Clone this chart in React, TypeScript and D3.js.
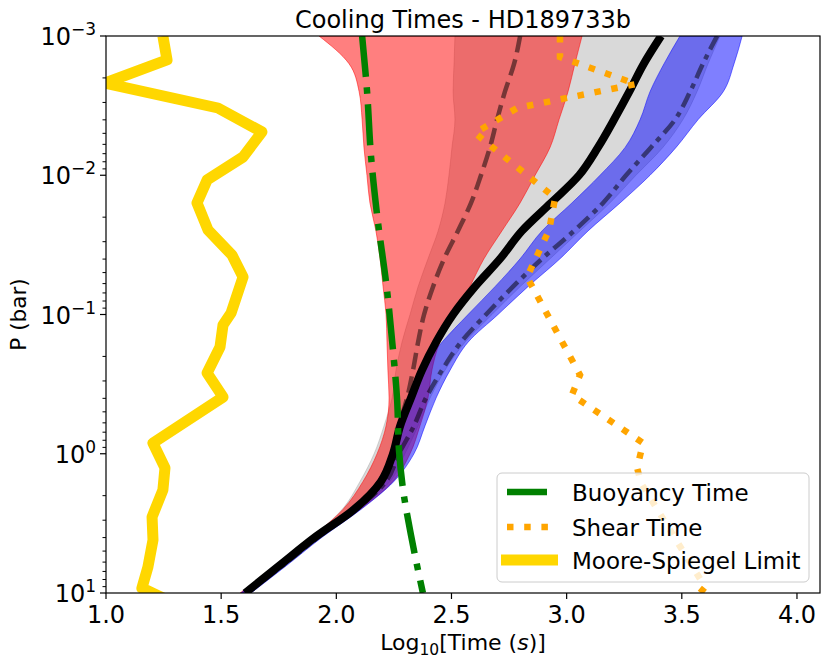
import React from "react";
import * as d3 from "d3";

// pressure levels (bar) shared by the model envelopes
const pressure = [0.001, 0.00158, 0.00251, 0.00398, 0.00631, 0.01, 0.0158, 0.0251, 0.0398, 0.0631, 0.1, 0.158, 0.251, 0.398, 0.631, 1.0, 1.58, 2.51, 3.98, 6.31, 10];

// log10 cooling time envelopes
const redLow = [1.925, 2.055, 2.099, 2.112, 2.12, 2.133, 2.146, 2.172, 2.19, 2.203, 2.216, 2.22, 2.224, 2.229, 2.216, 2.177, 2.116, 2.029, 1.894, 1.742, 1.582];
const redHigh = [3.067, 3.036, 3.006, 2.967, 2.928, 2.863, 2.798, 2.719, 2.641, 2.58, 2.52, 2.45, 2.415, 2.398, 2.363, 2.32, 2.246, 2.103, 1.929, 1.773, 1.617];
const redMid = [2.798, 2.772, 2.732, 2.698, 2.667, 2.628, 2.585, 2.528, 2.468, 2.42, 2.381, 2.355, 2.333, 2.307, 2.272, 2.242, 2.19, 2.072, 1.907, 1.755, 1.604];
const greyLow = [2.515, 2.511, 2.507, 2.515, 2.502, 2.489, 2.472, 2.442, 2.398, 2.355, 2.32, 2.285, 2.259, 2.242, 2.207, 2.164, 2.103, 2.025, 1.894, 1.747, 1.586];
const greyHigh = [3.666, 3.614, 3.566, 3.505, 3.418, 3.301, 3.188, 3.058, 2.928, 2.798, 2.676, 2.559, 2.472, 2.407, 2.355, 2.298, 2.233, 2.094, 1.929, 1.777, 1.621];
const blackMid = [3.41, 3.335, 3.272, 3.206, 3.136, 3.054, 2.932, 2.806, 2.711, 2.602, 2.507, 2.433, 2.372, 2.324, 2.277, 2.246, 2.194, 2.077, 1.907, 1.755, 1.604];
const blueLow = [3.492, 3.423, 3.362, 3.319, 3.254, 3.145, 3.023, 2.893, 2.798, 2.689, 2.572, 2.459, 2.363, 2.311, 2.264, 2.233, 2.177, 2.059, 1.894, 1.747, 1.586];
const blueHigh = [3.762, 3.727, 3.68, 3.571, 3.475, 3.362, 3.232, 3.093, 2.971, 2.832, 2.702, 2.572, 2.494, 2.433, 2.385, 2.337, 2.25, 2.107, 1.938, 1.786, 1.63];
const blueMid = [3.653, 3.592, 3.536, 3.471, 3.366, 3.258, 3.158, 3.032, 2.893, 2.767, 2.65, 2.541, 2.459, 2.389, 2.337, 2.272, 2.216, 2.086, 1.921, 1.769, 1.612];

// buoyancy time
const buoyPressure = [0.001, 0.002443, 0.0074, 0.01928, 0.06668, 0.1799, 0.4111, 0.9397, 1.82, 3.828, 10];
const buoyTime = [2.112, 2.133, 2.151, 2.177, 2.22, 2.246, 2.264, 2.272, 2.29, 2.324, 2.376];

// shear time
const shearPressure = [0.001, 0.001416, 0.002213, 0.003289, 0.004977, 0.01455, 0.02472, 0.05383, 0.2716, 0.3784, 0.8375, 1.265, 1.622, 9.06, 12.19];
const shearTime = [2.971, 2.971, 3.301, 2.785, 2.602, 2.95, 2.924, 2.828, 3.058, 3.023, 3.332, 3.306, 3.323, 3.601, 3.536];

// Moore-Spiegel limit
const msPressure = [0.001, 0.001486, 0.002178, 0.003289, 0.004887, 0.007396, 0.01081, 0.01581, 0.02472, 0.03741, 0.05383, 0.0975, 0.1189, 0.171, 0.263, 0.3917, 0.8375, 1.265, 1.82, 2.844, 4.159, 6.501, 9.204, 13.03];
const msTime = [1.247, 1.265, 0.995, 1.486, 1.677, 1.595, 1.439, 1.395, 1.443, 1.547, 1.595, 1.543, 1.508, 1.495, 1.439, 1.508, 1.204, 1.256, 1.247, 1.2, 1.204, 1.182, 1.156, 1.347];

const xTicks = [1.0, 1.5, 2.0, 2.5, 3.0, 3.5, 4.0];
const yTicks = [1e-3, 1e-2, 1e-1, 1e0, 1e1];
const yTickExp = ["\u22123", "\u22122", "\u22121", "0", "1"];

const legendItems = ["Buoyancy Time", "Shear Time", "Moore-Spiegel Limit"];

const W = 830, H = 665;
const left = 106, right = 820, top = 36, bottom = 593;
const font = "DejaVu Sans, sans-serif";

export default function App() {
  const x = d3.scaleLinear().domain([1.0, 4.1]).range([left, right]);
  const y = d3.scaleLog().domain([1e-3, 1e1]).range([top, bottom]);

  const band = (lo: number[], hi: number[]) =>
    d3.area<number>()
      .x0((_, i) => x(lo[i]))
      .x1((_, i) => x(hi[i]))
      .y((p) => y(p))
      .curve(d3.curveMonotoneY)(pressure) || "";

  const profile = (t: number[]) =>
    d3.line<number>()
      .x((_, i) => x(t[i]))
      .y((p) => y(p))
      .curve(d3.curveMonotoneY)(pressure) || "";

  const poly = (t: number[], p: number[], smooth = false) =>
    d3.line<number>()
      .x((d) => x(d))
      .y((_, i) => y(p[i]))
      .curve(smooth ? d3.curveMonotoneY : d3.curveLinear)(t) || "";

  const minor: number[] = [];
  for (let k = -3; k < 1; k++) {
    for (let m = 2; m < 10; m++) minor.push(m * Math.pow(10, k));
  }

  const legY = [492, 527, 560];

  return (
    <svg width={W} height={H} style={{ position: "absolute", left: 0, top: 0, background: "#fff" }} fontFamily={font}>
      <defs>
        <clipPath id="plot">
          <rect x={left} y={top} width={right - left} height={bottom - top} />
        </clipPath>
      </defs>

      <g clipPath="url(#plot)">
        <path d={band(greyLow, greyHigh)} fill="grey" fillOpacity={0.3} stroke="grey" strokeOpacity={0.3} strokeWidth={1} />
        <path d={band(redLow, redHigh)} fill="red" fillOpacity={0.5} stroke="red" strokeOpacity={0.5} strokeWidth={1} />
        <path d={band(blueLow, blueHigh)} fill="blue" fillOpacity={0.5} stroke="blue" strokeOpacity={0.5} strokeWidth={1} />

        <path d={profile(redMid)} fill="none" stroke="black" strokeOpacity={0.5} strokeWidth={4.5} strokeDasharray="16.7 7.2" />
        <path d={profile(blueMid)} fill="none" stroke="black" strokeOpacity={0.5} strokeWidth={4.5} strokeDasharray="15 6 5 6" />
        <path d={profile(blackMid)} fill="none" stroke="black" strokeWidth={8} strokeLinejoin="round" />

        <path d={poly(buoyTime, buoyPressure, true)} fill="none" stroke="green" strokeWidth={6.5} strokeDasharray="41 10.5 6.5 10.5" />
        <path d={poly(shearTime, shearPressure)} fill="none" stroke="orange" strokeWidth={6.5} strokeDasharray="6.5 10.7" />
        <path d={poly(msTime, msPressure)} fill="none" stroke="gold" strokeWidth={11} strokeLinejoin="round" />
      </g>

      {/* spines */}
      <rect x={left} y={top} width={right - left} height={bottom - top} fill="none" stroke="black" strokeWidth={1.2} />

      {/* x axis */}
      {xTicks.map((t) => (
        <g key={"x" + t}>
          <line x1={x(t)} x2={x(t)} y1={bottom} y2={bottom + 6} stroke="black" strokeWidth={1.2} />
          <text x={x(t)} y={bottom + 30} textAnchor="middle" fontSize={24}>{t.toFixed(1)}</text>
        </g>
      ))}

      {/* y axis */}
      {minor.map((m) => (
        <line key={"m" + m} x1={left - 3.5} x2={left} y1={y(m)} y2={y(m)} stroke="black" strokeWidth={1} />
      ))}
      {yTicks.map((t, i) => (
        <g key={"y" + t}>
          <line x1={left - 6} x2={left} y1={y(t)} y2={y(t)} stroke="black" strokeWidth={1.2} />
          <text x={96} y={y(t) + 9} textAnchor="end" fontSize={24}>
            10<tspan dy={-10} fontSize={17}>{yTickExp[i]}</tspan>
          </text>
        </g>
      ))}

      {/* labels */}
      <text x={(left + right) / 2} y={28} textAnchor="middle" fontSize={24}>Cooling Times - HD189733b</text>
      <text x={(left + right) / 2} y={650} textAnchor="middle" fontSize={22}>
        Log<tspan dy={5} fontSize={15.5}>10</tspan><tspan dy={-5}>[Time (</tspan><tspan fontStyle="italic">s</tspan>)]
      </text>
      <text transform={`translate(26,${(top + bottom) / 2}) rotate(-90)`} textAnchor="middle" fontSize={21.5}>P (bar)</text>

      {/* legend */}
      <rect x={497} y={473} width={312} height={109} rx={5} fill="white" fillOpacity={0.8} stroke="#cccccc" strokeWidth={1} />
      <line x1={507} x2={547} y1={legY[0]} y2={legY[0]} stroke="green" strokeWidth={6.5} strokeDasharray="41 10.5 6.5 10.5" />
      <line x1={507} x2={548} y1={legY[1]} y2={legY[1]} stroke="orange" strokeWidth={6.5} strokeDasharray="6.5 10.7" />
      <line x1={506.5} x2={552.5} y1={legY[2]} y2={legY[2]} stroke="gold" strokeWidth={11} strokeLinecap="square" />
      {legendItems.map((s, i) => (
        <text key={s} x={572} y={legY[i] + 8.5} fontSize={23}>{s}</text>
      ))}
    </svg>
  );
}
